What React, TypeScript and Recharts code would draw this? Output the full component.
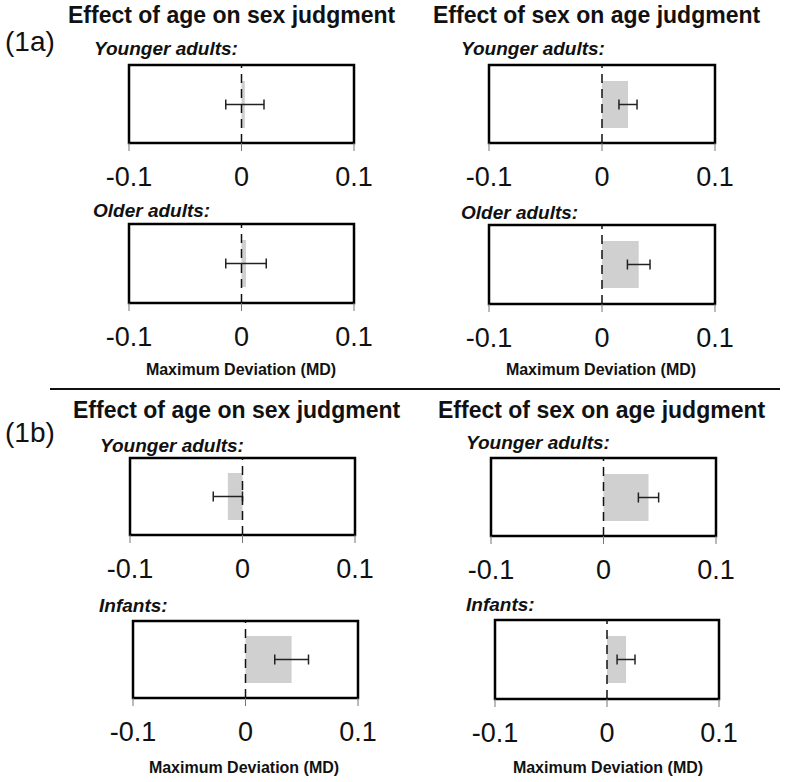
import { BarChart, Bar, XAxis, YAxis, ErrorBar, ReferenceLine, ReferenceArea } from 'recharts'

// effect of age on sex judgment (left column), effect of sex on age judgment (right column)
const groupLabels = ['Younger adults:', 'Older adults:', 'Younger adults:', 'Infants:']
const sexJudgmentMeans = [0.003, 0.004, -0.013, 0.041]
const sexJudgmentErrors = [0.017, 0.018, 0.013, 0.015]
const ageJudgmentMeans = [0.023, 0.0325, 0.04, 0.017]
const ageJudgmentErrors = [0.008, 0.01, 0.009, 0.008]
const axisTicks = [-0.1, 0, 0.1]

const FONT = '"Liberation Sans", Arial, Helvetica, sans-serif'

// plot box positions (left, top, right, bottom) for each panel
const leftBoxes = [
  [129, 65, 354, 143],
  [129, 224, 354, 303],
  [130, 458, 355, 535],
  [133, 621, 358, 698],
]
const rightBoxes = [
  [489, 65, 715, 143],
  [489, 225, 715, 304],
  [491, 458, 716, 536],
  [495, 620, 719, 699],
]
const leftLabelPos = [[94, 48], [93, 210], [100, 445], [99, 605]]
const rightLabelPos = [[461, 48], [461, 212], [466, 442], [466, 604]]

function Panel({ box, mean, err, label }: { box: number[]; mean: number; err: number; label: string }) {
  const [l, t, r, b] = box
  const w = r - l
  const h = b - t
  const padX = 40
  const padTop = 5
  const data = [{ name: label, value: mean, err }]
  return (
    <div style={{ position: 'absolute', left: l - padX, top: t - padTop }}>
      <BarChart
        width={w + padX * 2}
        height={h + padTop + 50}
        data={data}
        layout="vertical"
        margin={{ top: padTop, right: padX, left: padX, bottom: 0 }}
      >
        <XAxis
          type="number"
          domain={[-0.1, 0.1]}
          ticks={axisTicks}
          allowDataOverflow
          height={50}
          axisLine={false}
          tickLine={{ stroke: '#777', strokeWidth: 1 }}
          tickSize={8}
          tickMargin={16}
          tick={{ fontSize: 27, fill: '#111', fontFamily: FONT }}
          tickFormatter={(v: number) => (v === 0 ? '0' : String(v))}
        />
        <YAxis type="category" dataKey="name" hide />
        <Bar dataKey="value" fill="#d0d0d0" barSize={47} isAnimationActive={false}>
          <ErrorBar dataKey="err" direction="x" width={5} stroke="#222" strokeWidth={1.5} />
        </Bar>
        <ReferenceLine x={0} stroke="#111" strokeWidth={1.5} strokeDasharray="9 6" />
        <ReferenceArea x1={-0.1} x2={0.1} fill="none" stroke="#000" strokeWidth={2.5} fillOpacity={0} />
      </BarChart>
    </div>
  )
}

function Txt({ x, y, size, weight, italic, children, center }: any) {
  return (
    <div
      style={{
        position: 'absolute',
        left: x,
        top: y - size / 2,
        fontSize: size,
        lineHeight: `${size}px`,
        fontFamily: FONT,
        fontWeight: weight || 'normal',
        fontStyle: italic ? 'italic' : 'normal',
        whiteSpace: 'nowrap',
        transform: center ? 'translateX(-50%)' : undefined,
        color: '#111',
      }}
    >
      {children}
    </div>
  )
}

export default function App() {
  return (
    <div style={{ position: 'absolute', left: 0, top: 0, width: 786, height: 782, background: '#fff' }}>
      <Txt x={5} y={42} size={28}>(1a)</Txt>
      <Txt x={5} y={433} size={28}>(1b)</Txt>
      <Txt x={68} y={15} size={23} weight="bold">Effect of age on sex judgment</Txt>
      <Txt x={433} y={15} size={23} weight="bold">Effect of sex on age judgment</Txt>
      <Txt x={73} y={410} size={23} weight="bold">Effect of age on sex judgment</Txt>
      <Txt x={438} y={410} size={23} weight="bold">Effect of sex on age judgment</Txt>

      {groupLabels.map((g, i) => (
        <Txt key={'ll' + i} x={leftLabelPos[i][0]} y={leftLabelPos[i][1]} size={19} weight="bold" italic>
          {g}
        </Txt>
      ))}
      {groupLabels.map((g, i) => (
        <Txt key={'rl' + i} x={rightLabelPos[i][0]} y={rightLabelPos[i][1]} size={19} weight="bold" italic>
          {g}
        </Txt>
      ))}

      {groupLabels.map((g, i) => (
        <Panel key={'lp' + i} box={leftBoxes[i]} mean={sexJudgmentMeans[i]} err={sexJudgmentErrors[i]} label={g} />
      ))}
      {groupLabels.map((g, i) => (
        <Panel key={'rp' + i} box={rightBoxes[i]} mean={ageJudgmentMeans[i]} err={ageJudgmentErrors[i]} label={g} />
      ))}

      <Txt x={241} y={370} size={16} weight="bold" center>Maximum Deviation (MD)</Txt>
      <Txt x={601} y={370} size={16} weight="bold" center>Maximum Deviation (MD)</Txt>
      <Txt x={244} y={768} size={16} weight="bold" center>Maximum Deviation (MD)</Txt>
      <Txt x={608} y={768} size={16} weight="bold" center>Maximum Deviation (MD)</Txt>

      <div style={{ position: 'absolute', left: 50, top: 388, width: 730, height: 2, background: '#111' }} />
    </div>
  )
}
